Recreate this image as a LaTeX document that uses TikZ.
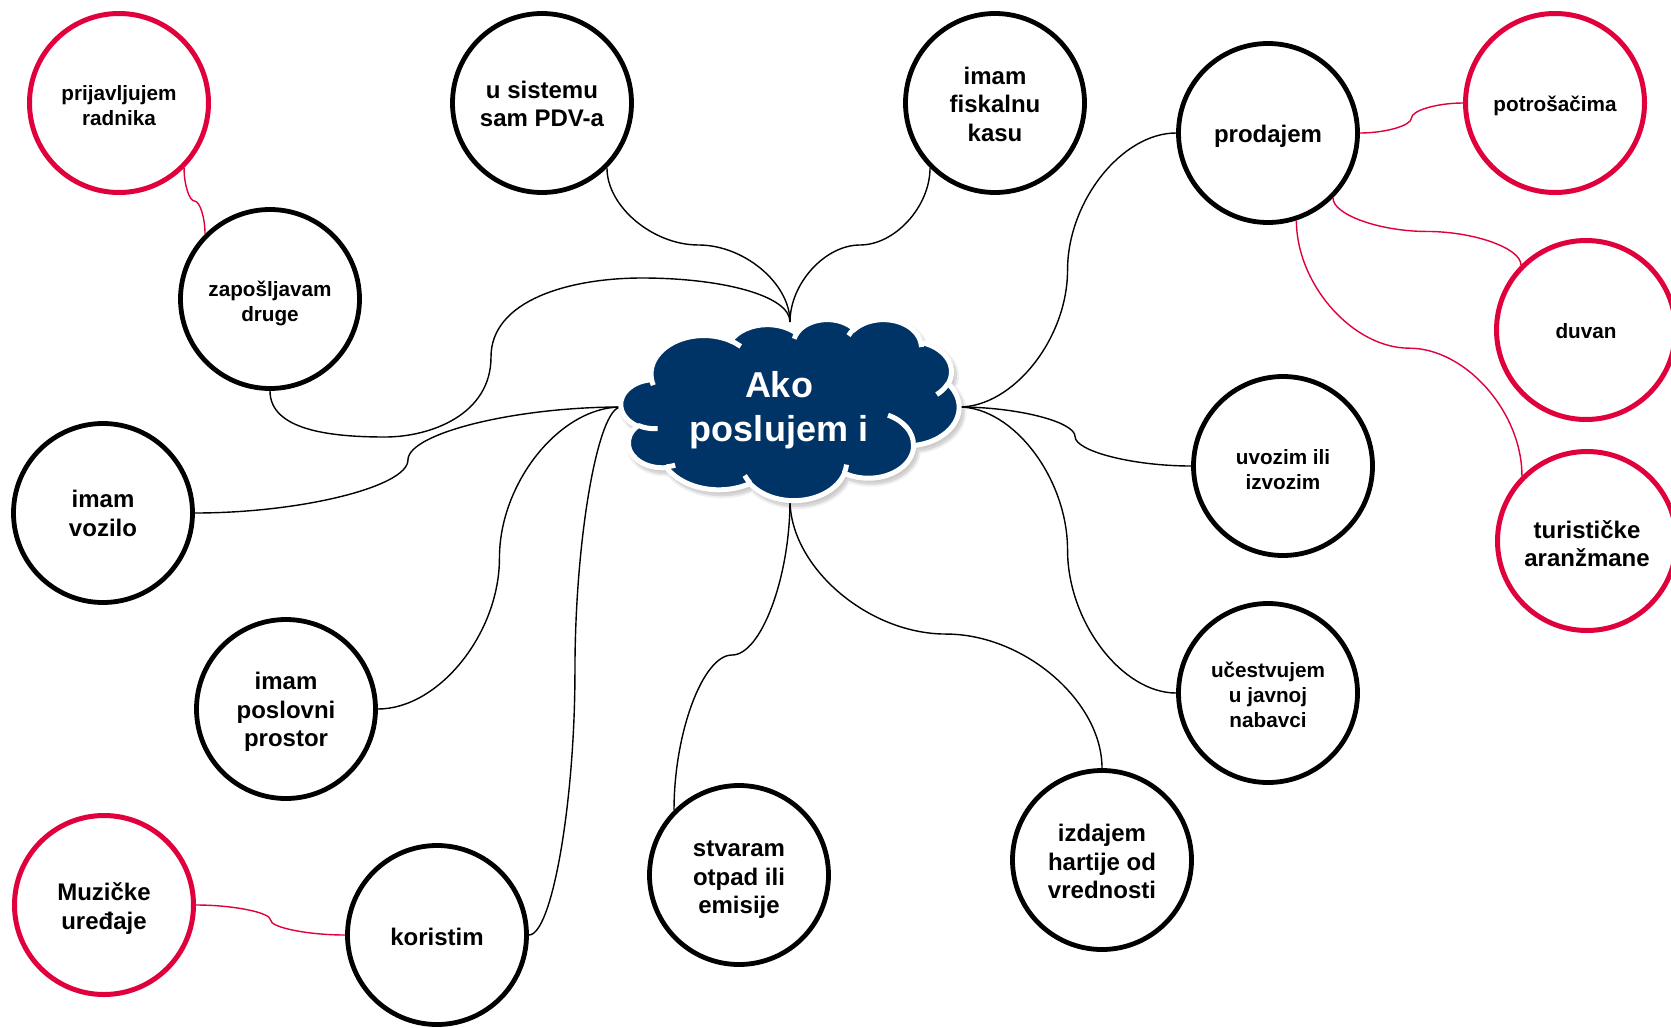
\documentclass[tikz,border=0pt]{standalone}
\usepackage{fontspec}
\setmainfont{Liberation Sans}
\usetikzlibrary{calc}
\definecolor{navy}{RGB}{0,51,102}
\definecolor{crim}{RGB}{224,0,60}
% DrawingML-style arc (visual angles -> parametric)
\newcommand\carc[4]{arc[x radius=#1, y radius=#2, start angle={atan2(#1*sin(#3),#2*cos(#3))}, delta angle={Mod(atan2(#1*sin(#3+#4),#2*cos(#3+#4))-atan2(#1*sin(#3),#2*cos(#3)),360)}]}
\newcommand\cloudarcs{\carc{67.53}{91.90}{-190.4875}{123.7805} \carc{53.33}{72.67}{-144.1024}{89.9452} \carc{43.65}{59.45}{-145.8079}{99.7230} \carc{48.57}{65.95}{-130.9861}{117.2417} \carc{53.33}{72.73}{-78.7089}{109.0269} \carc{67.75}{92.20}{-46.2673}{130.2690} \carc{57.85}{78.67}{0.6250}{114.0333} \carc{67.52}{92.15}{22.4516}{115.1726} \carc{77.20}{105.43}{66.2426}{75.7110} \carc{43.60}{59.18}{-274.9421}{146.7356} \carc{43.45}{59.45}{-246.8285}{152.5189}}
% curved connectors (PowerPoint curvedConnector3)
\newcommand\hconn[4][]{\draw[#1] let \p1=(#2), \p2=(#3) in (\p1) .. controls ({\x1+(\x2-\x1)*#4/2},\y1) and ({\x1+(\x2-\x1)*#4},{\y1+(\y2-\y1)/4}) .. ({\x1+(\x2-\x1)*#4},{(\y1+\y2)/2}) .. controls ({\x1+(\x2-\x1)*#4},{\y1+3*(\y2-\y1)/4}) and ({(\x1+(\x2-\x1)*#4+\x2)/2},\y2) .. (\p2);}
\newcommand\vconn[4][]{\draw[#1] let \p1=(#2), \p2=(#3) in (\p1) .. controls (\x1,{\y1+(\y2-\y1)*#4/2}) and ({\x1+(\x2-\x1)/4},{\y1+(\y2-\y1)*#4}) .. ({(\x1+\x2)/2},{\y1+(\y2-\y1)*#4}) .. controls ({\x1+3*(\x2-\x1)/4},{\y1+(\y2-\y1)*#4}) and (\x2,{(\y1+(\y2-\y1)*#4+\y2)/2}) .. (\p2);}
\tikzset{
  bub/.style={circle, draw=black, line width=4.8pt, fill=white, minimum size=179pt, inner sep=0pt},
  redbub/.style={bub, draw=crim, line width=5pt},
  lbl/.style={align=center, text=black, inner sep=0pt, font=\bfseries\fontsize{24}{28.5}\selectfont},
  slbl/.style={lbl, font=\bfseries\fontsize{20.7}{25}\selectfont},
  conn/.style={draw=black, line width=1.4pt},
  rconn/.style={draw=crim, line width=1.4pt},
}
\begin{document}
\begin{tikzpicture}[x=1pt,y=-1pt]
\useasboundingbox (0,0) rectangle (1671,1028);
% circles
\node[redbub, label={[slbl, name=radnikt, yshift=-2.1pt]center:prijavljujem\\radnika}] (radnik) at (119,103) {};
\node[bub, label={[slbl, name=zapt, yshift=-4.0pt]center:zapošljavam\\druge}] (zap) at (270,299) {};
\node[bub, label={[lbl, name=pdvt, yshift=-1.1pt]center:u sistemu\\sam PDV-a}] (pdv) at (542,103) {};
\node[bub, label={[lbl, name=kasat, yshift=-1.1pt]center:imam\\fiskalnu\\kasu}] (kasa) at (995,103) {};
\node[bub, label={[lbl, name=prodt, yshift=-3.2pt]center:prodajem}] (prod) at (1268,133) {};
\node[redbub, label={[slbl, name=potrt, yshift=-3.2pt]center:potrošačima}] (potr) at (1555,103) {};
\node[redbub, label={[slbl, name=duvant, yshift=-1.1pt]center:duvan}] (duvan) at (1586,330) {};
\node[redbub, label={[lbl, name=turistt, yshift=-2.7pt]center:turističke\\aranžmane}] (turist) at (1587,541) {};
\node[bub, label={[slbl, name=uvozt, yshift=-3.2pt]center:uvozim ili\\izvozim}] (uvoz) at (1283,466) {};
\node[bub, label={[slbl, name=nabavt, yshift=-2.1pt]center:učestvujem\\u javnoj\\nabavci}] (nabav) at (1268,693) {};
\node[bub, label={[lbl, name=hartijet, yshift=-1.6pt]center:izdajem\\hartije od\\vrednosti}] (hartije) at (1102,860) {};
\node[bub, label={[lbl, name=otpadt, yshift=-4.8pt]center:stvaram\\otpad ili\\emisije}] (otpad) at (739,875) {};
\node[bub, label={[lbl, name=koristimt, yshift=-2.1pt]center:koristim}] (koristim) at (437,935) {};
\node[redbub, label={[lbl, name=muzt, yshift=-3.6pt]center:Muzičke\\uređaje}] (muz) at (104,905) {};
\node[bub, label={[lbl, name=prostort, yshift=-3.0pt]center:imam\\poslovni\\prostor}] (prostor) at (286,709) {};
\node[bub, label={[lbl, name=vozilot, yshift=-0.3pt]center:imam\\vozilo}] (vozilo) at (103,513) {};
% cloud connection points
\coordinate (ctop) at (790,322);
\coordinate (cleft) at (621,407);
\coordinate (cright) at (959,407);
\coordinate (cbot) at (790,500);
% red connectors
\vconn[rconn]{radnik.-45}{zap.135}{0.5}
\hconn[rconn]{prod.east}{potr.west}{0.5}
\vconn[rconn]{prod.-45}{duvan.135}{0.5}
\vconn[rconn]{prod.-72}{turist.135}{0.5}
\hconn[rconn]{muz.east}{koristim.west}{0.5}
% black connectors
\vconn[conn]{pdv.-45}{ctop}{0.5}
\vconn[conn]{kasa.-135}{ctop}{0.5}
\draw[conn] (zap.south) .. controls (270,430) and (330,437) .. (385,437) .. controls (430,437) and (491,415) .. (491,357) .. controls (491,300) and (570,278) .. (642,278) .. controls (720,278) and (790,295) .. (ctop);
\hconn[conn]{vozilo.east}{cleft}{0.5}
\hconn[conn]{prostor.east}{cleft}{0.5}
\hconn[conn]{koristim.east}{cleft}{0.5}
\vconn[conn]{otpad.135}{cbot}{0.5}
\vconn[conn]{hartije.north}{cbot}{0.5}
\hconn[conn]{nabav.west}{cright}{0.5}
\hconn[conn]{uvoz.west}{cright}{0.5}
\hconn[conn]{prod.west}{cright}{0.5}
% cloud
\begin{scope}[shift={(624,323)}, xscale=0.78241, yscale=0.41898]
  \fill[black, opacity=0.06] (39.00,143.70) \cloudarcs -- cycle;
  \draw[black, opacity=0.06, line width=9pt] (39.00,143.70) \cloudarcs -- cycle;
  \draw[black, opacity=0.10, line width=5pt] (39.00,143.70) \cloudarcs -- cycle;
\end{scope}
\begin{scope}[shift={(621,319)}, xscale=0.78241, yscale=0.41898]
  \draw[white, line width=5pt, fill=navy] (39.00,143.70) \cloudarcs -- cycle;
  \draw[white, line width=5pt] (46.93,261.77) \carc{43.45}{59.45}{86.7420}{26.4295}
    (69.28,348.99) \carc{43.60}{59.18}{73.6105}{11.4475}
    (164.78,390.90) \carc{67.52}{92.15}{137.6242}{14.0811}
    (288.27,347.51) \carc{67.52}{92.15}{6.4533}{15.9984}
    (341.29,229.54) \carc{57.85}{78.67}{-70.2924}{70.9174}
    (417.98,153.54) \carc{53.33}{72.73}{30.3180}{27.7515}
    (383.24,54.26) \carc{48.57}{65.95}{-13.7443}{14.8589}
    (290.78,39.52) \carc{48.57}{65.95}{-149.1815}{18.1954}
    (221.41,47.20) \carc{43.65}{59.45}{-163.4943}{17.6864}
    (140.00,51.92) \carc{67.53}{91.90}{-66.7070}{12.3194}
    (41.27,157.89) \carc{67.53}{91.90}{157.6544}{11.8582};
\end{scope}
\node[text=white, align=center, font=\bfseries\fontsize{36}{44}\selectfont] (core) at (779,410) {Ako\\poslujem i};
\end{tikzpicture}
\end{document}
